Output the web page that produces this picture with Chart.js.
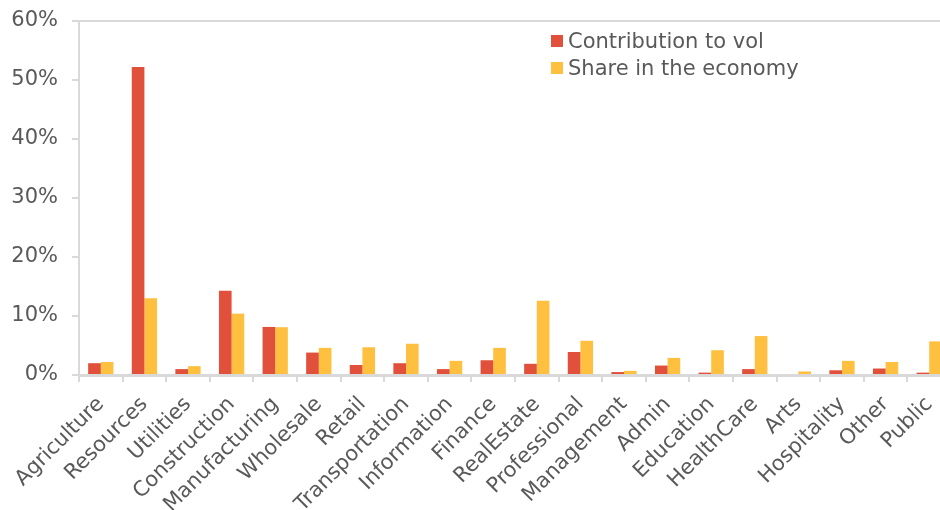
<!DOCTYPE html>
<html>
<head>
<meta charset="utf-8">
<script src="https://cdn.jsdelivr.net/npm/chart.js@4.4.1/dist/chart.umd.min.js"></script>
<style>
  html, body { margin: 0; padding: 0; background: #fff; overflow: hidden; }
  #wrap { position: relative; width: 951px; height: 510px; }
  #legenda { position: absolute; left: 551px; top: 28px; font-family: 'DejaVu Sans', Verdana, sans-serif; font-size: 21px; color: #595959; }
  #legenda div { height: 27px; line-height: 27px; white-space: nowrap; }
  #legenda span.cor { display: inline-block; width: 12px; height: 12px; margin-right: 5px; vertical-align: 1px; }
</style>
</head>
<body>
<div id="wrap">
  <canvas id="grafico"></canvas>
  <div id="legenda"></div>
</div>
<script>
const setores = ['Agriculture', 'Resources', 'Utilities', 'Construction', 'Manufacturing', 'Wholesale', 'Retail',
  'Transportation', 'Information', 'Finance', 'RealEstate', 'Professional', 'Management', 'Admin', 'Education',
  'HealthCare', 'Arts', 'Hospitality', 'Other', 'Public'];
const contribuicao = [2.0, 52.2, 1.0, 14.3, 8.15, 3.8, 1.7, 2.0, 1.0, 2.5, 1.9, 3.9, 0.5, 1.6, 0.4, 1.0, 0.0, 0.8, 1.1, 0.4];
const participacao = [2.2, 13.0, 1.5, 10.4, 8.1, 4.6, 4.7, 5.3, 2.4, 4.6, 12.6, 5.8, 0.7, 2.9, 4.2, 6.6, 0.6, 2.4, 2.2, 5.7];
const ticksY = [0, 10, 20, 30, 40, 50, 60];

const corCinza = '#d9d9d9';
const corTexto = '#595959';
const fonte = { family: "'DejaVu Sans', Verdana, sans-serif", size: 21 };

const datasets = [
  { label: 'Contribution to vol', data: contribuicao, backgroundColor: '#e1503a' },
  { label: 'Share in the economy', data: participacao, backgroundColor: '#ffbf3f' }
];

const ctx = document.getElementById('grafico').getContext('2d');
new Chart(ctx, {
  type: 'bar',
  data: { labels: setores, datasets: datasets },
  options: {
    responsive: true,
    maintainAspectRatio: false,
    animation: false,
    layout: { padding: { top: 21, right: 0, left: 0, bottom: 0 } },
    datasets: { bar: { categoryPercentage: 0.58, barPercentage: 1.0 } },
    plugins: { legend: { display: false }, tooltip: { enabled: false } },
    scales: {
      x: {
        border: { display: true, color: corCinza, width: 3 },
        grid: { drawOnChartArea: false, tickColor: corCinza, tickLength: 7, lineWidth: 2 },
        ticks: { color: corTexto, font: fonte, minRotation: 45, maxRotation: 45, autoSkip: false, padding: 10 },
        afterFit: s => { s.height = 135; s.paddingLeft = 0; s.paddingRight = 0; }
      },
      y: {
        min: 0, max: 60,
        afterBuildTicks: s => { s.ticks = ticksY.map(v => ({ value: v })); },
        border: { display: true, color: corCinza, width: 2 },
        grid: {
          color: c => (c.tick && c.tick.value === 60 ? corCinza : 'rgba(0,0,0,0)'),
          lineWidth: 2, tickColor: corCinza, tickLength: 7
        },
        ticks: { color: corTexto, font: fonte, padding: 14, callback: v => v + '%' },
        afterFit: s => { s.width = 79; s.paddingTop = 0; s.paddingBottom = 0; }
      }
    }
  }
});

const legenda = document.getElementById('legenda');
datasets.forEach(d => {
  const linha = document.createElement('div');
  linha.innerHTML = `<span class="cor" style="background:${d.backgroundColor}"></span>${d.label}`;
  legenda.appendChild(linha);
});
</script>
</body>
</html>
